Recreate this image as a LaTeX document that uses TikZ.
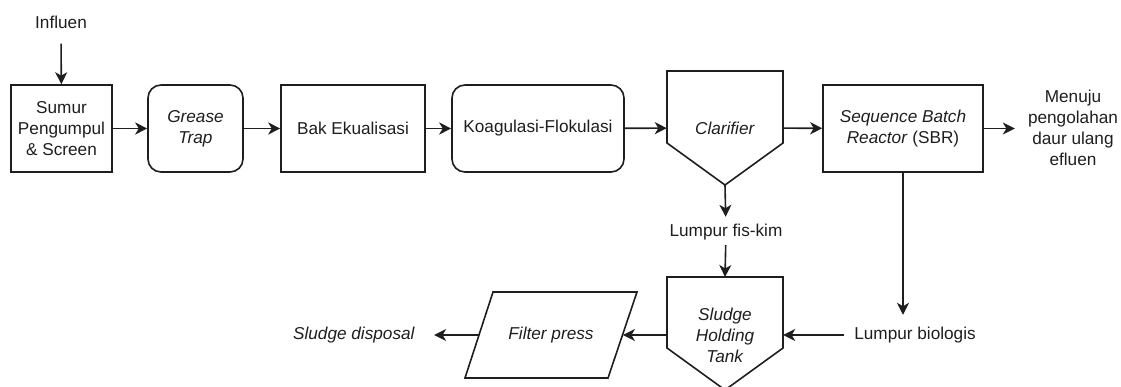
\documentclass[tikz,border=0pt]{standalone}
\usepackage{fontspec}
\setmainfont{Liberation Sans}
\usetikzlibrary{arrows.meta}
\definecolor{ink}{HTML}{1E1E1E}
\begin{document}
\begin{tikzpicture}[x=1pt,y=-1pt,
  every node/.style={font=\fontsize{17.2}{21}\selectfont, text=ink, align=center},
  flowline/.style={draw=ink, line width=1.6pt, -{Stealth[length=12pt,width=12pt,inset=3.5pt]}},
  plainline/.style={draw=ink, line width=1.6pt},
  procbox/.style={draw=ink, line width=1.6pt, minimum height=87pt, inner sep=0pt},
  roundbox/.style={procbox, rounded corners=13pt},
  shapetext/.style={inner sep=0pt},
  labeltext/.style={inner sep=0pt}
]
\useasboundingbox (0,0) rectangle (1121,387);

% main process line
\node[procbox, minimum width=101pt] (sumur) at (61.5,128.5) {Sumur\\Pengumpul\\\& Screen};
\node[roundbox, minimum width=95pt] (grease) at (195.5,128.5) {\textit{Grease}\\\textit{Trap}};
\node[procbox, minimum width=144pt] (bak) at (353,128.5) {Bak Ekualisasi};
\node[roundbox, minimum width=172pt] (koag) at (538,128.5) {Koagulasi-Flokulasi};
\node[procbox, minimum width=160pt] (sbr) at (903,128.5) {\textit{Sequence Batch}\\\textit{Reactor} (SBR)};

% clarifier: box with a pointed bottom
\node[shapetext, minimum width=116pt] (clar) at (725,128) {\textit{Clarifier}};
\draw[plainline, line join=miter] (667,71) -- (783,71) -- (783,143) -- (725,185) -- (667,143) -- cycle;
\coordinate (clartip) at (725,185);

% sludge holding tank
\node[shapetext, minimum width=116pt] (tank) at (725,335) {\textit{Sludge}\\\textit{Holding}\\\textit{Tank}};
\draw[plainline, line join=miter] (667,277) -- (783,277) -- (783,348) -- (725,390) -- (667,348) -- cycle;
\coordinate (tanktop) at (725,277);

% filter press (parallelogram)
\node[shapetext, minimum width=143.5pt] (filter) at (551,335) {\textit{Filter press}};
\draw[plainline, line join=miter] (465,378) -- (493,292) -- (637,292) -- (608,378) -- cycle;

% free labels
\node[labeltext] (influen) at (61,22) {Influen};
\node[labeltext] (fiskim) at (726,232) {Lumpur fis-kim};
\node[labeltext] (biologis) at (915,335) {Lumpur biologis};
\node[labeltext] (disposal) at (354,335) {\textit{Sludge disposal}};
\node[labeltext] (menuju) at (1073,128) {Menuju\\pengolahan\\daur ulang\\efluen};

% connectors
\draw[flowline, shorten <=15pt] (influen) -- (sumur);
\draw[flowline] (sumur) -- (grease);
\draw[flowline] (grease) -- (bak);
\draw[flowline] (bak) -- (koag);
\draw[flowline] (koag) -- (clar);
\draw[flowline] (clar) -- (sbr);
\draw[flowline, shorten >=13pt] (sbr.east) -- (menuju.west |- sbr.east);
\draw[flowline, shorten >=7pt] (clartip) -- (fiskim);
\draw[flowline, shorten <=5pt] (fiskim) -- (tanktop);
\draw[flowline, shorten >=12pt] (sbr.south) -- (sbr.south |- biologis.north);
\draw[flowline, shorten <=10pt] (biologis.west) -- (tank.east);
\draw[flowline] (tank.west) -- (filter.east);
\draw[flowline, shorten >=19pt] (filter.west) -- (disposal.east);
\end{tikzpicture}
\end{document}
